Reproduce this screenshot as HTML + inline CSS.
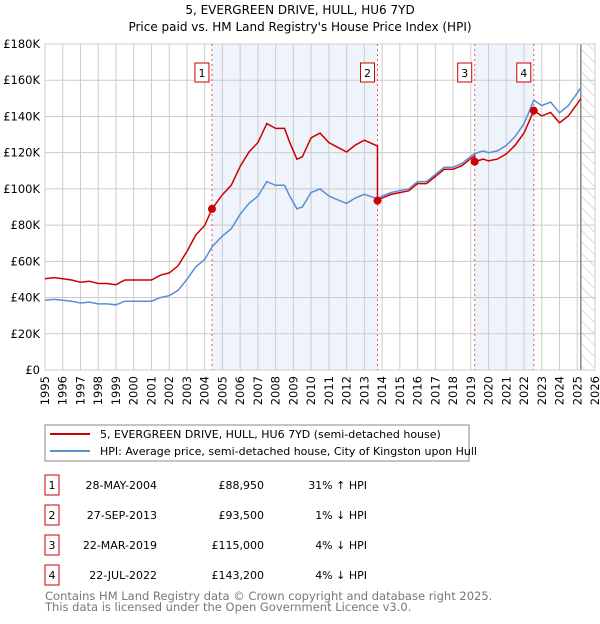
<!DOCTYPE html>
<html><head><meta charset="utf-8"><style>
body{margin:0;background:#fff;width:600px;height:620px;overflow:hidden;font-family:"DejaVu Sans","Liberation Sans",sans-serif;}
svg text{font-family:"DejaVu Sans","Liberation Sans",sans-serif;}
</style></head><body>
<svg id="c" width="600" height="620" xmlns="http://www.w3.org/2000/svg">
<text x="300" y="14" text-anchor="middle" font-size="12">5, EVERGREEN DRIVE, HULL, HU6 7YD</text>
<text x="300" y="31" text-anchor="middle" font-size="12">Price paid vs. HM Land Registry's House Price Index (HPI)</text>
<g id="plot"></g>
<rect x="45" y="425" width="424" height="36" fill="#fff" stroke="#888"/>
<line x1="50" y1="434" x2="90" y2="434" stroke="#cc0000" stroke-width="2"/>
<text x="100" y="438" font-size="11">5, EVERGREEN DRIVE, HULL, HU6 7YD (semi-detached house)</text>
<line x1="50" y1="451" x2="90" y2="451" stroke="#5b8fd0" stroke-width="2"/>
<text x="100" y="455" font-size="11">HPI: Average price, semi-detached house, City of Kingston upon Hull</text>
<g id="table" font-size="11"></g>
<text x="45" y="600" font-size="11.5" fill="#777">Contains HM Land Registry data © Crown copyright and database right 2025.</text>
<text x="45" y="611" font-size="11.5" fill="#777">This data is licensed under the Open Government Licence v3.0.</text>
</svg>
<script>
const hpiYears=[1995,1995.5,1996,1996.5,1997,1997.5,1998,1998.5,1999,1999.5,2000,2000.5,2001,2001.5,2002,2002.5,2003,2003.5,2004,2004.41,2005,2005.5,2006,2006.5,2007,2007.5,2008,2008.5,2008.8,2009.2,2009.5,2010,2010.5,2011,2011.5,2012,2012.5,2013,2013.74,2014,2014.5,2015,2015.5,2016,2016.5,2017,2017.5,2018,2018.5,2019,2019.22,2019.7,2020,2020.5,2021,2021.5,2022,2022.3,2022.55,2023,2023.5,2024,2024.5,2025,2025.2];
const hpiValues=[38.5,39,38.5,38,37,37.5,36.5,36.5,36,38,38,38,38,40,41,44,50,57,61,68,74,78,86,92,96,104,102,102,96,89,90,98,100,96,94,92,95,97,94.5,96,98,99,100,104,104,108,112,112,114,118,119.5,121,120,121,124,129,136,143,149,146,148,142,146,153,156];
const saleYears=[2004.41,2013.74,2019.22,2022.55];
const salePrices=[88.95,93.5,115,143.2];
const saleLabels=["1","2","3","4"];
const saleDates=["28-MAY-2004","27-SEP-2013","22-MAR-2019","22-JUL-2022"];
const salePriceText=["£88,950","£93,500","£115,000","£143,200"];
const saleDiffs=["31% ↑ HPI","1% ↓ HPI","4% ↓ HPI","4% ↓ HPI"];
const yTicks=[0,20,40,60,80,100,120,140,160,180];
const yTickLabels=["£0","£20K","£40K","£60K","£80K","£100K","£120K","£140K","£160K","£180K"];
const NS="http://www.w3.org/2000/svg";
const X0=45,X1=595,Y0=370,Y1=44;
const xs=y=>X0+(y-1995)/31*(X1-X0);
const ys=v=>Y0-v/180*(Y0-Y1);
const plot=document.getElementById('plot');
function mk(t,a,p){const e=document.createElementNS(NS,t);for(const k in a)e.setAttribute(k,a[k]);(p||plot).appendChild(e);return e;}
function hpiAt(y){for(let i=0;i<hpiYears.length-1;i++){if(y>=hpiYears[i]&&y<=hpiYears[i+1]){const t=(y-hpiYears[i])/(hpiYears[i+1]-hpiYears[i]);return hpiValues[i]+t*(hpiValues[i+1]-hpiValues[i]);}}return hpiValues[hpiValues.length-1];}
let bg=mk('rect',{x:X0,y:Y1,width:X1-X0,height:Y0-Y1,fill:'#fff'});


for(let i=0;i<saleYears.length;i+=2){const end=i+1<saleYears.length?saleYears[i+1]:2026;
let r=mk('rect',{x:xs(saleYears[i]),y:Y1,width:xs(end)-xs(saleYears[i]),height:Y0-Y1,fill:'#eef3fc'});

}
const defs=mk('defs',{});
const pat=mk('pattern',{id:'h',width:8,height:8,patternUnits:'userSpaceOnUse',patternTransform:'rotate(-45)'},defs);
mk('line',{x1:0,y1:0,x2:0,y2:8,stroke:'#bbb','stroke-width':1},pat);
let hr=mk('rect',{x:xs(2025.2),y:Y1,width:X1-xs(2025.2),height:Y0-Y1,fill:'url(#h)'});


for(let y=1995;y<=2026;y++){let l=mk('line',{x1:xs(y),x2:xs(y),y1:Y1,y2:Y0,stroke:'#ccc'});


let t=mk('text',{x:0,y:0,'font-size':11.5,'text-anchor':'end',transform:`translate(${xs(y)+4},${Y0+6}) rotate(-90)`});t.textContent=y;

}
yTicks.forEach((v,i)=>{let l=mk('line',{x1:X0,x2:X1,y1:ys(v),y2:ys(v),stroke:'#ccc'});


let t=mk('text',{x:40,y:ys(v)+4,'font-size':11.5,'text-anchor':'end'});t.textContent=yTickLabels[i];

});
let vl=mk('line',{x1:xs(2025.2),x2:xs(2025.2),y1:Y1,y2:Y0,stroke:'#888','stroke-width':1.5});


let bd=mk('rect',{x:X0,y:Y1,width:X1-X0,height:Y0-Y1,fill:'none',stroke:'#ccc'});


saleYears.forEach((sy,i)=>{let l=mk('line',{x1:xs(sy),x2:xs(sy),y1:Y1,y2:Y0,stroke:'#e55','stroke-dasharray':'2,3'});


let b=mk('rect',{x:xs(sy)-17,y:63,width:14,height:19,fill:'#fff',stroke:'#cc0000'});


let t=mk('text',{x:xs(sy)-10,y:77,'font-size':11,'text-anchor':'middle'});t.textContent=saleLabels[i];

});
let hp=hpiYears.map((y,i)=>`${xs(y).toFixed(1)},${ys(hpiValues[i]).toFixed(1)}`).join(' ');
let hl=mk('polyline',{points:hp,fill:'none',stroke:'#5b8fd0','stroke-width':1.5});


let pts=[];
hpiYears.forEach((y,i)=>{let k=-1;for(let j=0;j<saleYears.length;j++)if(saleYears[j]<=y+1e-9)k=j;
const idx=k<0?0:k;const ratio=salePrices[idx]/hpiAt(saleYears[idx]);
if(k>=0&&Math.abs(saleYears[k]-y)<1e-6&&k>0){const pr=salePrices[k-1]/hpiAt(saleYears[k-1]);pts.push([y,hpiValues[i]*pr]);}
pts.push([y,hpiValues[i]*ratio]);});
let pl=mk('polyline',{points:pts.map(p=>`${xs(p[0]).toFixed(1)},${ys(p[1]).toFixed(1)}`).join(' '),fill:'none',stroke:'#cc0000','stroke-width':1.5});


saleYears.forEach((sy,i)=>{let c=mk('circle',{cx:xs(sy),cy:ys(salePrices[i]),r:4,fill:'#cc0000'});

});
const tb=document.getElementById('table');
saleYears.forEach((sy,i)=>{const y=475+i*30;
let b=mk('rect',{x:45,y:y,width:14,height:20,fill:'#fff',stroke:'#cc0000'},tb);


const cells=[[52,'middle',saleLabels[i],'table-row-number'],[157,'end',saleDates[i],'table-sale-date'],[264,'end',salePriceText[i],'table-sale-price'],[367,'end',saleDiffs[i],'table-hpi-diff']];
cells.forEach(c=>{let t=mk('text',{x:c[0],y:y+14,'text-anchor':c[1],'font-size':11},tb);t.textContent=c[2];

});});
</script>
</body></html>
